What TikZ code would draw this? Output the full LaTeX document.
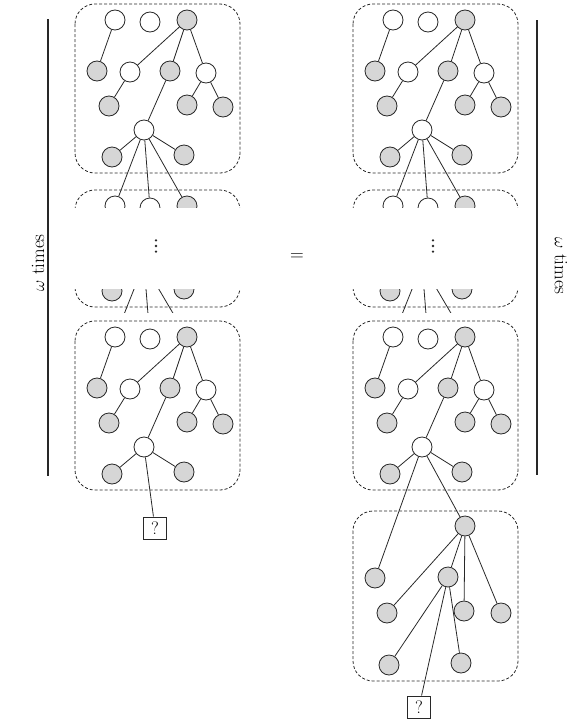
\documentclass[tikz,border=0pt]{standalone}
\definecolor{nodegray}{RGB}{214,214,214}
\definecolor{linegray}{RGB}{40,40,40}
\tikzset{
  x=1pt, y=-1pt,
  wn/.style={circle, draw=linegray, line width=0.8pt, fill=white, minimum size=20pt, inner sep=0pt},
  gn/.style={wn, fill=nodegray},
  edge/.style={draw=linegray, line width=0.8pt},
  dbox/.style={draw=linegray, dash pattern=on 3pt off 2pt, line width=0.8pt, rounded corners=20pt},
  qbox/.style={draw=linegray, line width=1pt, minimum width=23pt, minimum height=22pt, inner sep=0pt, font=\fontsize{18}{20}\selectfont},
  bar/.style={draw=linegray, line width=1.4pt},
  lab/.style={font=\fontsize{19}{22}\selectfont},
  dotn/.style={circle, fill=linegray, inner sep=0pt, minimum size=2.6pt}
}
\newcommand\treebox[3]{%
  \begin{scope}[shift={(#2,#3)}]
    \draw[dbox] (75,4) rectangle (240,173);
    \node[wn] (#1A) at (115,20) {};
    \node[wn] (#1B) at (150,22) {};
    \node[gn] (#1C) at (187,20) {};
    \node[gn] (#1D) at (97,71) {};
    \node[wn] (#1E) at (130,72) {};
    \node[gn] (#1F) at (170,71) {};
    \node[wn] (#1G) at (206,73) {};
    \node[gn] (#1H) at (109,106) {};
    \node[gn] (#1I) at (187,105) {};
    \node[gn] (#1J) at (223,107) {};
    \node[wn] (#1K) at (144,130) {};
    \node[gn] (#1L) at (112,157) {};
    \node[gn] (#1M) at (184,155) {};
    \draw[edge] (#1A) -- (#1D);
    \draw[edge] (#1C) -- (#1E);
    \draw[edge] (#1C) -- (#1F);
    \draw[edge] (#1C) -- (#1G);
    \draw[edge] (#1E) -- (#1H);
    \draw[edge] (#1F) -- (#1K);
    \draw[edge] (#1G) -- (#1I);
    \draw[edge] (#1G) -- (#1J);
    \draw[edge] (#1K) -- (#1L);
    \draw[edge] (#1K) -- (#1M);
  \end{scope}}
\newcommand\vdotsat[3]{%
  \node[dotn] (#1a) at (#2,#3-5.6) {};
  \node[dotn] (#1b) at (#2,#3) {};
  \node[dotn] (#1c) at (#2,#3+5.6) {};}
\begin{document}
\begin{tikzpicture}
\useasboundingbox (0,0) rectangle (580,723);
% ---------- left column ----------
\treebox{Lt}{0}{0}
\treebox{Lb}{0}{317}
\begin{scope}
  \clip (0,185) rectangle (580,207.5);
  \treebox{Lm}{0}{186}
\end{scope}
\draw[edge] (LtK) -- (LmA);
\draw[edge] (LtK) -- (LmB);
\draw[edge] (LtK) -- (LmC);
\begin{scope}
  \clip (0,289.3) rectangle (580,312);
  \treebox{Ln}{0}{134}
  \draw[edge] (LnK) -- (LbA);
  \draw[edge] (LnK) -- (LbB);
  \draw[edge] (LnK) -- (LbC);
\end{scope}
\vdotsat{ld}{156}{246}
\node[qbox] (Lq) at (155,528) {?};
\draw[edge] (LbK) -- (Lq);
% ---------- right column ----------
\treebox{Rt}{278}{0}
\treebox{Rb}{278}{317}
\begin{scope}
  \clip (0,185) rectangle (580,207.5);
  \treebox{Rm}{278}{186}
\end{scope}
\draw[edge] (RtK) -- (RmA);
\draw[edge] (RtK) -- (RmB);
\draw[edge] (RtK) -- (RmC);
\begin{scope}
  \clip (0,289.3) rectangle (580,312);
  \treebox{Rn}{278}{134}
  \draw[edge] (RnK) -- (RbA);
  \draw[edge] (RnK) -- (RbB);
  \draw[edge] (RnK) -- (RbC);
\end{scope}
\vdotsat{rd}{433}{246}
% extra box
\draw[dbox] (353,511) rectangle (518,681);
\node[gn] (RcP) at (465,526) {};
\node[gn] (RcQ) at (375,578) {};
\node[gn] (RcR) at (448,577) {};
\node[gn] (RcS) at (387,613) {};
\node[gn] (RcT) at (464,611) {};
\node[gn] (RcU) at (501,613) {};
\node[gn] (RcV) at (389,665) {};
\node[gn] (RcW) at (461,663) {};
\node[qbox] (Rq) at (419,707) {?};
\draw[edge] (RbK) -- (RcQ);
\draw[edge] (RbK) -- (RcP);
\draw[edge] (RcP) -- (RcS);
\draw[edge] (RcP) -- (RcR);
\draw[edge] (RcP) -- (RcT);
\draw[edge] (RcP) -- (RcU);
\draw[edge] (RcR) -- (RcV);
\draw[edge] (RcR) -- (RcW);
\draw[edge] (RcR) -- (Rq);
% ---------- labels and bars ----------
\draw[bar] (48,19) -- (48,476);
\draw[bar] (537,20) -- (537,475);
\node[lab, rotate=90] (ltext) at (38,263) {$\omega$ times};
\node[lab, rotate=-90] (rtext) at (561,266) {$\omega$ times};
\node[lab] (eq) at (297,257) {=};
\end{tikzpicture}
\end{document}
